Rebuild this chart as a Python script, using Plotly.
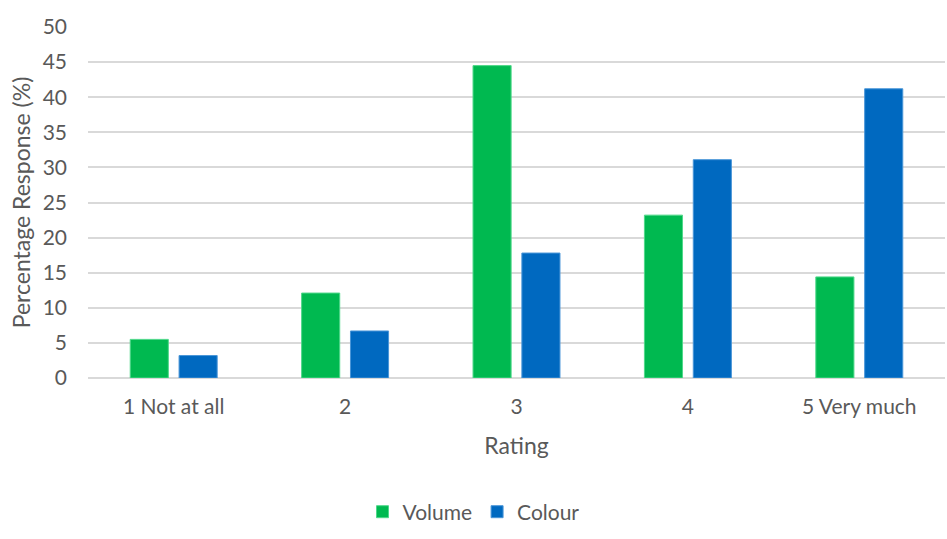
import plotly.graph_objects as go

categories = ["1 Not at all", "2", "3", "4", "5 Very much"]
volume = [5.5, 12.1, 44.5, 23.2, 14.4]
colour = [3.2, 6.7, 17.8, 31.1, 41.2]
y_ticks = [0, 5, 10, 15, 20, 25, 30, 35, 40, 45, 50]

FONT = "Lato"
TXT = "#595959"

fig = go.Figure()
fig.add_trace(go.Bar(name="Volume", x=categories, y=volume,
                     marker=dict(color="#00B950", line=dict(color="#4fd88a", width=1))))
fig.add_trace(go.Bar(name="Colour", x=categories, y=colour,
                     marker=dict(color="#0069C0", line=dict(color="#4a96d8", width=1))))

fig.update_layout(
    width=947, height=539,
    margin=dict(l=88, r=2, t=27, b=161),
    paper_bgcolor="white", plot_bgcolor="white",
    barmode="group", bargap=0.43, bargroupgap=0.22,
    font=dict(family=FONT, size=21, color=TXT),
    showlegend=True,
    legend=dict(orientation="h", xref="container", yref="container",
                x=0.5, xanchor="center", y=0.05, yanchor="middle",
                font=dict(size=21, color=TXT), itemwidth=30, traceorder="normal"),
    xaxis=dict(title=dict(text="Rating", standoff=20, font=dict(size=23, color=TXT)),
               showgrid=False, showline=False, ticks="", ticklabelstandoff=14,
               tickfont=dict(size=21, color=TXT)),
    yaxis=dict(title=dict(text="Percentage Response (%)", standoff=5, font=dict(size=23, color=TXT)),
               range=[0, 50], tickvals=y_ticks, showgrid=True, gridcolor="#d9d9d9", gridwidth=2,
               zeroline=True, zerolinecolor="#d9d9d9", zerolinewidth=2,
               showline=False, ticks="", ticklabelstandoff=20,
               tickfont=dict(size=21, color=TXT)),
)

fig.write_html("out.html")
